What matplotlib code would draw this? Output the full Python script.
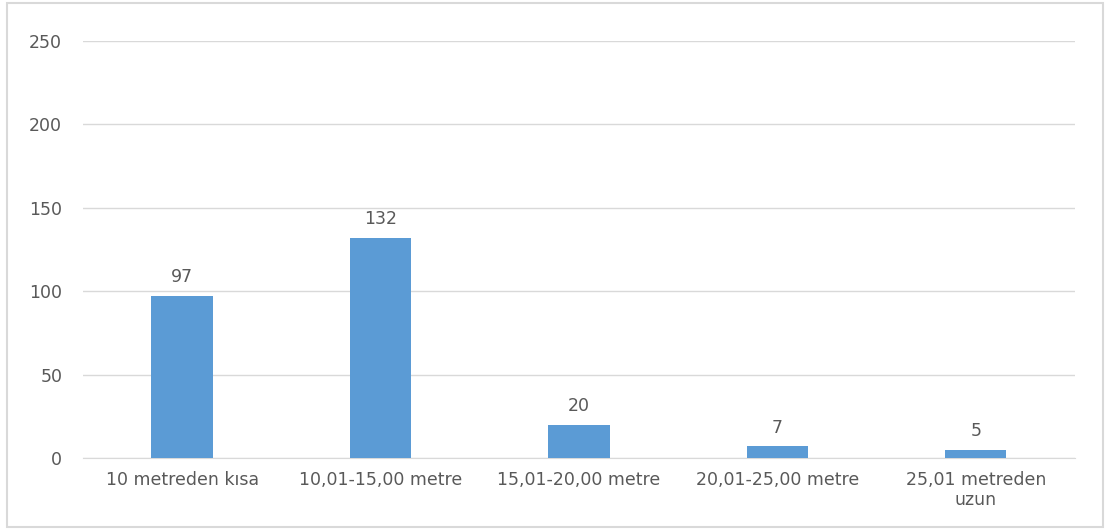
import matplotlib.pyplot as plt
from matplotlib.patches import Rectangle

# categories and counts
categories = ['10 metreden kısa', '10,01-15,00 metre', '15,01-20,00 metre',
              '20,01-25,00 metre', '25,01 metreden\nuzun']
values = [97, 132, 20, 7, 5]
y_ticks = [0, 50, 100, 150, 200, 250]

plt.rcParams['font.family'] = ['DejaVu Sans']
text_color = '#595959'

fig = plt.figure(figsize=(11.07, 5.32), dpi=100)
ax = fig.add_axes([0.075, 0.139, 0.896, 0.784])

x = range(len(categories))
ax.bar(x, values, width=0.31, color='#5B9BD5', zorder=3)
for i, v in zip(x, values):
    ax.annotate(str(v), (i, v), xytext=(0, 7), textcoords='offset points',
                ha='center', va='bottom', fontsize=12.5, color=text_color)

ax.set_xlim(-0.5, len(categories) - 0.5)
ax.set_ylim(0, 250)
ax.set_yticks(y_ticks)
ax.set_xticks(list(x))
ax.set_xticklabels(categories, fontsize=12.5, color=text_color, linespacing=1.15)
ax.tick_params(axis='y', labelsize=12.5, labelcolor=text_color, length=0, pad=15)
ax.tick_params(axis='x', length=0, pad=9)
ax.grid(axis='y', color='#D9D9D9', linewidth=1, zorder=0)
for s in ['top', 'right', 'left']:
    ax.spines[s].set_visible(False)
ax.spines['bottom'].set_color('#D9D9D9')

# outer chart border
fig.patches.append(Rectangle((0.006, 0.01), 0.99, 0.985, transform=fig.transFigure,
                             fill=False, edgecolor='#D9D9D9', linewidth=1.5))

fig.savefig('out.png', dpi=100)
